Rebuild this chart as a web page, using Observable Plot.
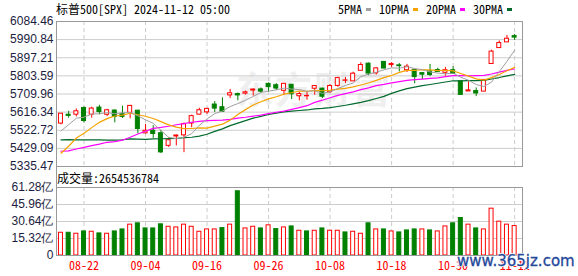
<!DOCTYPE html>
<html><head><meta charset="utf-8">
<script src="https://cdn.jsdelivr.net/npm/d3@7"></script>
<script src="https://cdn.jsdelivr.net/npm/@observablehq/plot@0.6"></script>
<style>
body{margin:0;background:#fff;}
#wrap{position:relative;width:578px;height:276px;overflow:hidden;background:#fff;}
.mono{position:absolute;white-space:nowrap;font-family:"Noto Sans Mono CJK SC","Noto Sans CJK SC",monospace;font-size:12px;line-height:12px;color:#000;}
.sw{display:inline-block;width:5px;height:3px;vertical-align:middle;margin:0 8px 0 4px;position:relative;top:-1px;}
svg{position:absolute;left:0;}
</style></head>
<body><div id="wrap"></div>
<script>
// ---- data ----
const title = "标普500[SPX] 2024-11-12 05:00";
const volLabel = "成交量";
const latestVolume = "2654536784";
const dates = ["2024-08-19","2024-08-20","2024-08-21","2024-08-22","2024-08-23","2024-08-26","2024-08-27","2024-08-28","2024-08-29","2024-08-30",
"2024-09-03","2024-09-04","2024-09-05","2024-09-06","2024-09-09","2024-09-10","2024-09-11","2024-09-12","2024-09-13","2024-09-16",
"2024-09-17","2024-09-18","2024-09-19","2024-09-20","2024-09-23","2024-09-24","2024-09-25","2024-09-26","2024-09-27","2024-09-30",
"2024-10-01","2024-10-02","2024-10-03","2024-10-04","2024-10-07","2024-10-08","2024-10-09","2024-10-10","2024-10-11","2024-10-14",
"2024-10-15","2024-10-16","2024-10-17","2024-10-18","2024-10-21","2024-10-22","2024-10-23","2024-10-24","2024-10-25","2024-10-28",
"2024-10-29","2024-10-30","2024-10-31","2024-11-01","2024-11-04","2024-11-05","2024-11-06","2024-11-07","2024-11-08","2024-11-11"];
const opens = [5557.23,5602.88,5603.09,5637.77,5602.97,5639.66,5602.89,5624.51,5607.30,5612.74,
5623.89,5506.68,5520.08,5507.33,5442.07,5490.51,5496.42,5557.48,5603.34,5615.21,
5655.51,5641.68,5702.63,5709.68,5711.90,5727.84,5733.65,5762.22,5755.36,5726.52,
5757.73,5698.19,5698.19,5737.21,5737.80,5719.14,5751.80,5778.36,5775.09,5829.81,
5866.74,5816.58,5875.62,5859.43,5857.82,5832.70,5834.50,5817.80,5826.75,5833.93,
5819.68,5832.65,5775.34,5723.22,5725.15,5722.43,5864.89,5947.21,5976.76,6008.86];
const highs = [5608.30,5620.51,5632.68,5643.22,5641.82,5651.62,5631.18,5627.03,5646.95,5651.37,
5623.89,5552.99,5546.30,5522.47,5484.20,5497.91,5560.41,5600.71,5636.27,5636.05,
5670.81,5689.75,5733.57,5715.14,5725.36,5735.32,5741.03,5767.37,5763.78,5765.14,
5757.73,5719.14,5718.78,5753.85,5739.34,5757.60,5796.80,5795.03,5822.13,5871.41,
5870.36,5846.52,5878.46,5872.17,5866.92,5863.04,5834.85,5817.80,5862.82,5842.92,
5847.23,5850.94,5775.34,5772.52,5741.43,5783.44,5936.14,5983.84,6012.45,6017.31];
const lows = [5550.74,5585.50,5591.57,5560.95,5585.16,5602.34,5593.48,5560.95,5583.71,5581.79,
5504.33,5503.66,5480.86,5402.62,5434.49,5441.72,5406.96,5535.50,5601.65,5604.53,
5614.05,5615.08,5686.42,5674.49,5704.94,5698.99,5712.06,5721.01,5727.34,5703.53,
5681.28,5674.00,5677.77,5703.76,5686.85,5714.56,5745.02,5764.76,5775.09,5829.81,
5804.48,5808.34,5840.25,5846.11,5824.08,5821.17,5762.41,5784.92,5799.98,5823.08,
5802.17,5811.28,5702.86,5723.22,5696.51,5722.10,5864.89,5947.21,5976.76,5986.69];
const closes = [5608.25,5597.12,5620.85,5570.64,5634.61,5616.84,5625.80,5592.18,5591.96,5648.40,
5528.93,5520.07,5503.41,5408.42,5471.05,5495.52,5554.13,5595.76,5626.02,5633.09,
5634.58,5618.26,5713.64,5702.55,5718.57,5732.93,5722.26,5745.37,5738.17,5762.48,
5708.75,5709.54,5699.94,5751.07,5695.94,5751.13,5792.04,5780.05,5815.03,5859.85,
5815.26,5842.47,5841.47,5864.67,5853.98,5851.20,5797.42,5809.86,5808.12,5823.52,
5832.92,5813.67,5705.45,5728.80,5712.69,5782.76,5929.04,5973.10,5995.54,6001.35];
const prevClose = 5554.25; // close before the first bar
const ma5 = [5519.07,5551.61,5584.74,5590.22,5606.29,5608.01,5613.75,5608.01,5612.28,5615.04,
5597.45,5576.31,5558.55,5521.85,5486.38,5479.69,5486.51,5504.98,5548.50,5580.90,
5608.72,5621.54,5645.12,5660.42,5677.52,5697.19,5717.99,5724.34,5731.46,5740.24,
5735.41,5732.86,5723.78,5726.36,5713.05,5721.52,5738.02,5754.05,5766.84,5799.62,
5812.45,5822.53,5834.82,5844.74,5843.57,5850.76,5841.75,5835.43,5824.12,5818.02,
5814.37,5817.62,5796.74,5780.87,5758.71,5748.67,5771.75,5825.28,5878.63,5936.56];
const ma10 = [5404.28,5439.98,5482.12,5507.25,5536.30,5563.54,5582.68,5596.38,5601.25,5610.67,
5602.73,5595.03,5583.28,5567.06,5550.71,5538.57,5531.41,5531.77,5535.17,5533.64,
5544.21,5554.02,5575.05,5604.46,5629.21,5652.95,5669.77,5684.73,5695.94,5708.88,
5716.30,5725.43,5724.06,5728.91,5726.65,5728.47,5735.44,5738.91,5746.60,5756.33,
5766.99,5780.28,5794.43,5805.79,5821.60,5831.60,5832.14,5835.12,5834.43,5830.80,
5832.56,5829.68,5816.08,5802.49,5788.37,5781.52,5794.68,5811.01,5829.75,5847.53];
const ma20 = [5414.29,5416.36,5426.04,5434.62,5443.39,5451.06,5460.52,5464.02,5471.28,5486.37,
5503.50,5517.51,5532.70,5537.16,5543.50,5551.06,5557.04,5564.07,5568.21,5572.15,
5573.47,5574.53,5579.17,5585.76,5589.96,5595.76,5600.59,5608.25,5615.56,5621.26,
5630.25,5639.73,5649.55,5666.68,5677.93,5690.71,5702.60,5711.82,5721.27,5732.61,
5741.64,5752.85,5759.24,5767.35,5774.12,5780.03,5783.79,5787.02,5790.51,5793.57,
5799.77,5804.98,5805.26,5804.14,5804.98,5806.56,5813.41,5823.06,5832.09,5839.16];
const ma30 = [5473.24,5473.91,5473.48,5473.01,5473.66,5473.18,5471.80,5471.93,5473.51,5478.29,
5477.10,5475.92,5478.46,5478.76,5479.16,5480.23,5484.15,5486.60,5492.58,5502.13,
5517.07,5529.68,5546.82,5559.59,5572.07,5585.02,5594.62,5604.29,5610.79,5617.73,
5621.08,5624.83,5627.46,5633.48,5635.52,5640.00,5645.54,5651.80,5659.24,5666.29,
5675.83,5686.58,5697.84,5713.05,5725.82,5737.67,5745.78,5752.92,5758.99,5765.34,
5771.95,5778.46,5778.19,5779.06,5778.87,5780.53,5787.42,5795.01,5803.59,5811.55];
// volume, in 亿 (1e8) shares
const volumes = [20.5,20.5,19.6,21.7,21.4,19.9,19.6,21.7,23.5,27.8,
29.0,24.4,24.4,28.1,25.9,25.3,27.8,25.9,21.4,23.5,
23.5,24.7,27.8,57.9,24.4,25.9,24.4,27.2,23.8,25.3,
26.2,22.3,21.7,22.3,24.4,22.3,22.3,20.8,21.4,19.6,
29.0,23.5,23.5,21.7,20.8,22.6,23.5,23.5,22.6,21.7,
26.2,29.0,33.8,27.8,24.4,23.5,42.2,30.5,27.8,26.55];
const priceTicks = [5335.47,5429.09,5522.72,5616.34,5709.96,5803.59,5897.21,5990.84,6084.46];
const volTicks = [0,15.32,30.64,45.96,61.28];
const labelDates = ["2024-08-22","2024-09-04","2024-09-16","2024-09-26","2024-10-08","2024-10-18","2024-10-30","2024-11-11"];
const maNames = ["5PMA","10PMA","20PMA","30PMA"];
const maColors = ["#a0a0a0","#f5a300","#ff00ff","#006a2c"];

// ---- build ----
const RED = "#ff0000", GREEN = "#008000";
const rows = dates.map((d,i)=>({date:d,open:opens[i],high:highs[i],low:lows[i],close:closes[i],
  ma5:ma5[i],ma10:ma10[i],ma20:ma20[i],ma30:ma30[i],vol:volumes[i],
  up: closes[i] >= opens[i], volUp: closes[i] >= (i ? closes[i-1] : prevClose)}));
const xOpt = {type:"band", domain:dates, range:[56,518.6], paddingInner:0.35, paddingOuter:0.255, axis:null, label:null};
const wrap = document.getElementById("wrap");

// faint logo watermark
const logo = document.createElement("div");
logo.textContent = "东方财富";
Object.assign(logo.style,{position:"absolute",left:"236px",top:"68px",fontFamily:"Noto Sans CJK SC",fontWeight:"bold",fontSize:"37px",lineHeight:"40px",color:"#efefef",letterSpacing:"2px"});
wrap.appendChild(logo);

const price = Plot.plot({
  width:578, height:166, marginLeft:56, marginRight:56, marginTop:21, marginBottom:0,
  style:{background:"transparent", overflow:"visible"},
  x:xOpt,
  y:{domain:[priceTicks[0], priceTicks[priceTicks.length-1]], axis:null, label:null},
  marks:[
    Plot.ruleY(priceTicks, {stroke:"#cccccc"}),
    Plot.ruleX(labelDates, {stroke:"#cccccc", strokeDasharray:"4,3"}),
    Plot.ruleX(rows, {x:"date", y1:"low", y2:"high", stroke:d=>d.up?RED:GREEN}),
    Plot.barY(rows, {x:"date", y1:"open", y2:"close", fill:d=>d.up?"#ffffff":GREEN, stroke:d=>d.up?RED:GREEN, insetLeft:0.5, insetRight:0.5}),
    Plot.lineY(rows, {x:"date", y:"ma30", stroke:maColors[3], strokeWidth:1.2}),
    Plot.lineY(rows, {x:"date", y:"ma20", stroke:maColors[2], strokeWidth:1.2}),
    Plot.lineY(rows, {x:"date", y:"ma10", stroke:maColors[1], strokeWidth:1.2}),
    Plot.lineY(rows, {x:"date", y:"ma5", stroke:maColors[0], strokeWidth:1}),
    Plot.axisY(priceTicks, {label:null, tickSize:0, tickPadding:3, tickFormat:d=>d.toFixed(2), fill:"#1c1c40", fontSize:12, fontFamily:"Liberation Sans, Arial, sans-serif"}),
    Plot.frame({stroke:"#999999"})
  ]
});
price.style.top = "0px";
wrap.appendChild(price);

const vol = Plot.plot({
  width:578, height:111, marginLeft:56, marginRight:56, marginTop:22, marginBottom:21,
  style:{background:"transparent", overflow:"visible"},
  x:xOpt,
  y:{domain:[0, volTicks[volTicks.length-1]], axis:null, label:null},
  marks:[
    Plot.ruleY(volTicks, {stroke:"#cccccc"}),
    Plot.ruleX(labelDates, {stroke:"#cccccc", strokeDasharray:"4,3"}),
    Plot.barY(rows, {x:"date", y:"vol", fill:d=>d.volUp?"#ffffff":GREEN, stroke:d=>d.volUp?RED:GREEN, insetLeft:0.5, insetRight:0.5}),
    Plot.axisY(volTicks, {label:null, tickSize:0, tickPadding:3, tickFormat:d=>d===0?"0":d.toFixed(2)+"亿", fill:"#1c1c40", fontSize:12, fontFamily:"Liberation Sans, Arial, sans-serif"}),
    Plot.axisX(labelDates, {label:null, tickSize:0, tickPadding:6, tickFormat:d=>d.slice(5), fill:"#ff0000", fontSize:12, fontFamily:"Noto Sans Mono CJK SC, Noto Sans CJK SC, monospace"}),
    Plot.frame({stroke:"#999999"})
  ]
});
vol.style.top = "165px";
wrap.appendChild(vol);

// left border segment between panels
const seg = document.createElement("div");
Object.assign(seg.style,{position:"absolute",left:"56px",top:"165px",width:"1px",height:"22px",background:"#999"});
wrap.appendChild(seg);

// title
const t = document.createElement("div"); t.className="mono"; t.textContent = title;
Object.assign(t.style,{left:"56px",top:"3px"}); wrap.appendChild(t);

// legend
const lg = document.createElement("div"); lg.className="mono";
Object.assign(lg.style,{left:"338px",top:"3px"});
maNames.forEach((n,i)=>{
  const s=document.createElement("span"); s.textContent=n; lg.appendChild(s);
  const sw=document.createElement("span"); sw.className="sw"; sw.style.background=maColors[i]; lg.appendChild(sw);
});
wrap.appendChild(lg);

// volume caption
const vc = document.createElement("div"); vc.className="mono"; vc.textContent = volLabel + ":" + latestVolume;
Object.assign(vc.style,{left:"57px",top:"172px"}); wrap.appendChild(vc);

// site watermark
const wm = document.createElement("div"); wm.textContent = "www.365jz.com";
Object.assign(wm.style,{position:"absolute",left:"457px",top:"252px",fontFamily:"DejaVu Sans, sans-serif",fontSize:"15px",lineHeight:"18px",color:"#24489a",webkitTextStroke:"0.3px #24489a",textShadow:"1px 0 #fff,-1px 0 #fff,0 1px #fff,0 -1px #fff"});
wrap.appendChild(wm);
</script></body></html>
